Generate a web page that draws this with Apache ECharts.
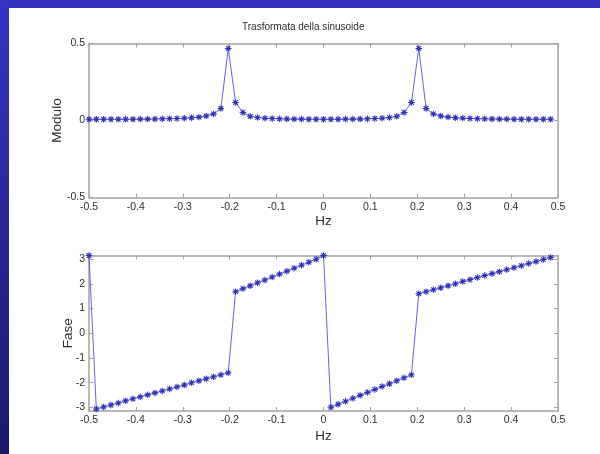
<!DOCTYPE html>
<html>
<head>
<meta charset="utf-8">
<title>Trasformata della sinusoide</title>
<script src="https://cdn.jsdelivr.net/npm/echarts@6/dist/echarts.min.js"></script>
<style>
  html, body { margin: 0; padding: 0; background: #fff; }
  #chart { width: 600px; height: 454px; }
</style>
</head>
<body>
<div id="chart"></div>
<script>
// 64-point DFT, frequency bins k/N for k = -32 .. 31 (fftshift order)
const N = 64;
const freq = [];
for (let k = -N / 2; k < N / 2; k++) freq.push(k / N);

// |X(f)| for each bin, from -0.5 to 0.484
const modulo = [
  0.008, 0.008, 0.008, 0.008, 0.008, 0.008, 0.008, 0.009, 0.009, 0.010,
  0.011, 0.012, 0.013, 0.015, 0.018, 0.022, 0.029, 0.043, 0.078, 0.468,
  0.117, 0.052, 0.027, 0.019, 0.015, 0.013, 0.011, 0.010, 0.009, 0.009,
  0.008, 0.008, 0.008, 0.008, 0.008, 0.009, 0.009, 0.010, 0.011, 0.013,
  0.015, 0.019, 0.027, 0.052, 0.117, 0.468, 0.078, 0.043, 0.029, 0.022,
  0.018, 0.015, 0.013, 0.012, 0.011, 0.010, 0.009, 0.009, 0.008, 0.008,
  0.008, 0.008, 0.008, 0.008
];

// arg X(f) in radians, from -0.5 to 0.484
const fase = [
  3.14, -3.06, -2.98, -2.90, -2.82, -2.73, -2.65, -2.57, -2.49, -2.41,
  -2.33, -2.25, -2.17, -2.09, -2.00, -1.92, -1.84, -1.76, -1.68, -1.60,
  1.68, 1.80, 1.92, 2.04, 2.15, 2.27, 2.39, 2.51, 2.63, 2.75,
  2.87, 2.99, 3.14, -2.99, -2.87, -2.75, -2.63, -2.51, -2.39, -2.27,
  -2.15, -2.04, -1.92, -1.80, -1.68, 1.60, 1.68, 1.76, 1.84, 1.92,
  2.00, 2.09, 2.17, 2.25, 2.33, 2.41, 2.49, 2.57, 2.65, 2.73,
  2.82, 2.90, 2.98, 3.06
];

const xTicks = ['-0.5', '-0.4', '-0.3', '-0.2', '-0.1', '0', '0.1', '0.2', '0.3', '0.4', '0.5'];
const moduloTicks = [-0.5, 0, 0.5];
const faseTicks = [-3, -2, -1, 0, 1, 2, 3];

const TITLE = 'Trasformata della sinusoide';
const X_NAME = 'Hz';
const Y_NAMES = ['Modulo', 'Fase'];

const boxColor = '#a3a3a3';
const textColor = '#2e2e2e';
const lineColor = '#6464dc';
const markColor = '#3030bc';
const FONT = 'Liberation Sans, Arial, sans-serif';

// asterisk-like marker ('*' style)
const star = 'path://M-0.8,-5L0.8,-5L0.8,5L-0.8,5Z M-5,-0.8L5,-0.8L5,0.8L-5,0.8Z M-4.1,-2.9L-2.9,-4.1L4.1,2.9L2.9,4.1Z M2.9,-4.1L4.1,-2.9L-2.9,4.1L-4.1,2.9Z';

const xFmt = v => String(parseFloat(v.toFixed(1)));

function xAxisCfg(gridIndex, position, withLabels, gap) {
  return {
    type: 'value', gridIndex, position,
    min: -0.5, max: 0.5, interval: 0.1,
    axisLine: { show: true, onZero: false, lineStyle: { color: boxColor, width: 1.5 } },
    axisTick: { show: true, inside: true, length: 4, lineStyle: { color: boxColor, width: 1 } },
    axisLabel: withLabels ? {
      show: true, margin: 4, fontSize: 10.5, color: textColor, fontFamily: FONT,
      formatter: v => xTicks.includes(xFmt(v)) ? xFmt(v) : ''
    } : { show: false },
    splitLine: { show: false },
    name: withLabels ? X_NAME : '',
    nameLocation: 'middle', nameGap: gap || 0, nameMoveOverlap: false,
    nameTextStyle: { fontSize: 13.5, color: textColor, fontFamily: FONT }
  };
}

function yAxisCfg(gridIndex, position, range, ticks, name, gap, withLabels) {
  return {
    type: 'value', gridIndex, position,
    min: range[0], max: range[1],
    axisLine: { show: true, onZero: false, lineStyle: { color: boxColor, width: 1.5 } },
    axisTick: { show: true, inside: true, length: 4, customValues: ticks, lineStyle: { color: boxColor, width: 1 } },
    axisLabel: withLabels ? {
      show: true, margin: 4, fontSize: 10.5, color: textColor, fontFamily: FONT,
      customValues: ticks, formatter: v => String(v)
    } : { show: false, customValues: ticks },
    splitLine: { show: false },
    name: withLabels ? name : '',
    nameLocation: 'middle', nameGap: gap, nameRotate: 90, nameMoveOverlap: false,
    nameTextStyle: { fontSize: 13.5, color: textColor, fontFamily: FONT }
  };
}

function seriesCfg(axisIdx, values) {
  return {
    type: 'line',
    xAxisIndex: axisIdx, yAxisIndex: axisIdx,
    data: freq.map((f, i) => [f, values[i]]),
    lineStyle: { color: lineColor, width: 1 },
    symbol: star, symbolSize: 6.5, showSymbol: true,
    itemStyle: { color: markColor },
    silent: true
  };
}

const chart = echarts.init(document.getElementById('chart'), null, { renderer: 'canvas' });
chart.setOption({
  backgroundColor: '#ffffff',
  animation: false,
  title: {
    text: TITLE, left: 242, top: 22, padding: 0,
    textStyle: { fontSize: 10, fontWeight: 'normal', color: textColor, fontFamily: FONT }
  },
  graphic: [
    { type: 'rect', shape: { x: 0, y: 0, width: 600, height: 8 }, style: { fill: '#3232bf' }, silent: true },
    {
      type: 'rect', shape: { x: 0, y: 0, width: 9, height: 454 }, silent: true,
      style: {
        fill: new echarts.graphic.LinearGradient(0, 0, 0, 1, [
          { offset: 0, color: '#3434c4' },
          { offset: 1, color: '#1a1a68' }
        ])
      }
    }
  ],
  grid: [
    { left: 89, top: 43.5, width: 469, height: 154, show: true, backgroundColor: '#fff', borderWidth: 0 },
    { left: 89, top: 255.5, width: 469, height: 155.5, show: true, backgroundColor: '#fff', borderWidth: 0 }
  ],
  xAxis: [
    xAxisCfg(0, 'bottom', true, 17),
    xAxisCfg(0, 'top', false),
    xAxisCfg(1, 'bottom', true, 18),
    xAxisCfg(1, 'top', false)
  ],
  yAxis: [
    yAxisCfg(0, 'left', [-0.5, 0.5], moduloTicks, Y_NAMES[0], 25, true),
    yAxisCfg(0, 'right', [-0.5, 0.5], moduloTicks, '', 0, false),
    yAxisCfg(1, 'left', [-Math.PI, Math.PI], faseTicks, Y_NAMES[1], 14, true),
    yAxisCfg(1, 'right', [-Math.PI, Math.PI], faseTicks, '', 0, false)
  ],
  series: [
    seriesCfg(0, modulo),
    seriesCfg(2, fase)
  ]
});
</script>
</body>
</html>
